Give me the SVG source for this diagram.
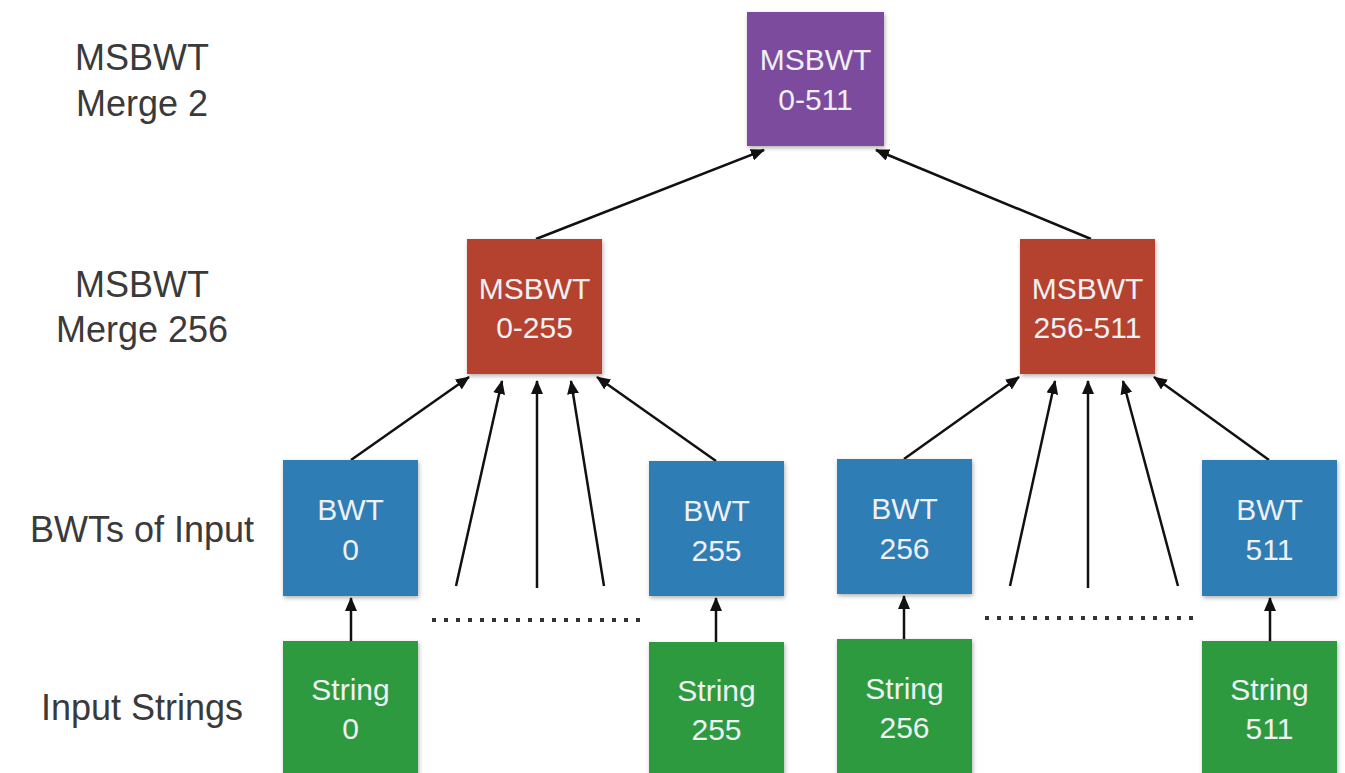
<svg xmlns="http://www.w3.org/2000/svg" width="1345" height="773" viewBox="0 0 1345 773">
<style>
.lbl{font-family:"Liberation Sans",Arial,sans-serif;font-size:36px;fill:#3a3a3a;text-anchor:middle}
.bt{font-family:"Liberation Sans",Arial,sans-serif;font-size:30px;fill:#eef0f4;text-anchor:middle}
.purple{fill:#7b4b9e}
.red{fill:#b5432f}
.blue{fill:#2e7db4}
.green{fill:#2e9a40}
.arr{stroke:#111;stroke-width:2.5;fill:none;marker-end:url(#ah)}
.dots{stroke:#333;stroke-width:4;stroke-dasharray:4 8;fill:none}
</style>
<defs>
<marker id="ah" markerUnits="userSpaceOnUse" markerWidth="14" markerHeight="12" refX="13" refY="6" orient="auto">
<path d="M0,0 L14,6 L0,12 z" fill="#111"/>
</marker>
<filter id="sh" x="-10%" y="-10%" width="125%" height="125%">
<feDropShadow dx="1" dy="2" stdDeviation="2" flood-color="#000" flood-opacity="0.3"/>
</filter>
</defs>
<rect width="1345" height="773" fill="#fff"/>

<g id="labels">
<text class="lbl" x="142" y="70">MSBWT</text>
<text class="lbl" x="142" y="116">Merge 2</text>
<text class="lbl" x="142" y="297">MSBWT</text>
<text class="lbl" x="142" y="342">Merge 256</text>
<text class="lbl" x="142" y="542">BWTs of Input</text>
<text class="lbl" x="142" y="720">Input Strings</text>
</g>

<g id="connectors">
<line class="arr" x1="536" y1="239" x2="764" y2="150"/>
<line class="arr" x1="1091" y1="239" x2="876" y2="150"/>
<line class="arr" x1="351" y1="460" x2="469" y2="377"/>
<line class="arr" x1="456" y1="586" x2="502" y2="381"/>
<line class="arr" x1="537" y1="588" x2="537" y2="381"/>
<line class="arr" x1="604" y1="586" x2="571" y2="381"/>
<line class="arr" x1="716" y1="461" x2="597" y2="377"/>
<line class="arr" x1="904" y1="459" x2="1019" y2="377"/>
<line class="arr" x1="1010" y1="586" x2="1055" y2="381"/>
<line class="arr" x1="1088" y1="588" x2="1088" y2="381"/>
<line class="arr" x1="1178" y1="586" x2="1123" y2="381"/>
<line class="arr" x1="1269" y1="460" x2="1154" y2="377"/>
<line class="arr" x1="351" y1="641" x2="351" y2="598"/>
<line class="arr" x1="716" y1="642" x2="716" y2="598"/>
<line class="arr" x1="904" y1="639" x2="904" y2="596"/>
<line class="arr" x1="1270" y1="641" x2="1270" y2="598"/>
<line class="dots" x1="432" y1="620" x2="640" y2="620"/>
<line class="dots" x1="985" y1="618" x2="1195" y2="618"/>
</g>

<g id="merge-0-511">
<rect class="purple" x="747" y="12" width="137" height="134" filter="url(#sh)"/>
<text class="bt" x="815.5" y="70">MSBWT</text>
<text class="bt" x="815.5" y="110">0-511</text>
</g>

<g id="merge-0-255">
<rect class="red" x="467" y="239" width="135" height="135" filter="url(#sh)"/>
<text class="bt" x="534.5" y="299">MSBWT</text>
<text class="bt" x="534.5" y="338">0-255</text>
</g>

<g id="merge-256-511">
<rect class="red" x="1020" y="239" width="135" height="135" filter="url(#sh)"/>
<text class="bt" x="1087.5" y="299">MSBWT</text>
<text class="bt" x="1087.5" y="338">256-511</text>
</g>

<g id="bwt-0">
<rect class="blue" x="283" y="460" width="135" height="136" filter="url(#sh)"/>
<text class="bt" x="350.5" y="520">BWT</text>
<text class="bt" x="350.5" y="560">0</text>
</g>
<g id="bwt-255">
<rect class="blue" x="649" y="461" width="135" height="135" filter="url(#sh)"/>
<text class="bt" x="716.5" y="521">BWT</text>
<text class="bt" x="716.5" y="561">255</text>
</g>
<g id="bwt-256">
<rect class="blue" x="837" y="459" width="135" height="135" filter="url(#sh)"/>
<text class="bt" x="904.5" y="519">BWT</text>
<text class="bt" x="904.5" y="559">256</text>
</g>
<g id="bwt-511">
<rect class="blue" x="1202" y="460" width="135" height="136" filter="url(#sh)"/>
<text class="bt" x="1269.5" y="520">BWT</text>
<text class="bt" x="1269.5" y="560">511</text>
</g>

<g id="string-0">
<rect class="green" x="283" y="641" width="135" height="136" filter="url(#sh)"/>
<text class="bt" x="350.5" y="700">String</text>
<text class="bt" x="350.5" y="739">0</text>
</g>
<g id="string-255">
<rect class="green" x="649" y="642" width="135" height="136" filter="url(#sh)"/>
<text class="bt" x="716.5" y="701">String</text>
<text class="bt" x="716.5" y="740">255</text>
</g>
<g id="string-256">
<rect class="green" x="837" y="639" width="135" height="138" filter="url(#sh)"/>
<text class="bt" x="904.5" y="699">String</text>
<text class="bt" x="904.5" y="738">256</text>
</g>
<g id="string-511">
<rect class="green" x="1202" y="641" width="135" height="136" filter="url(#sh)"/>
<text class="bt" x="1269.5" y="700">String</text>
<text class="bt" x="1269.5" y="739">511</text>
</g>
</svg>
